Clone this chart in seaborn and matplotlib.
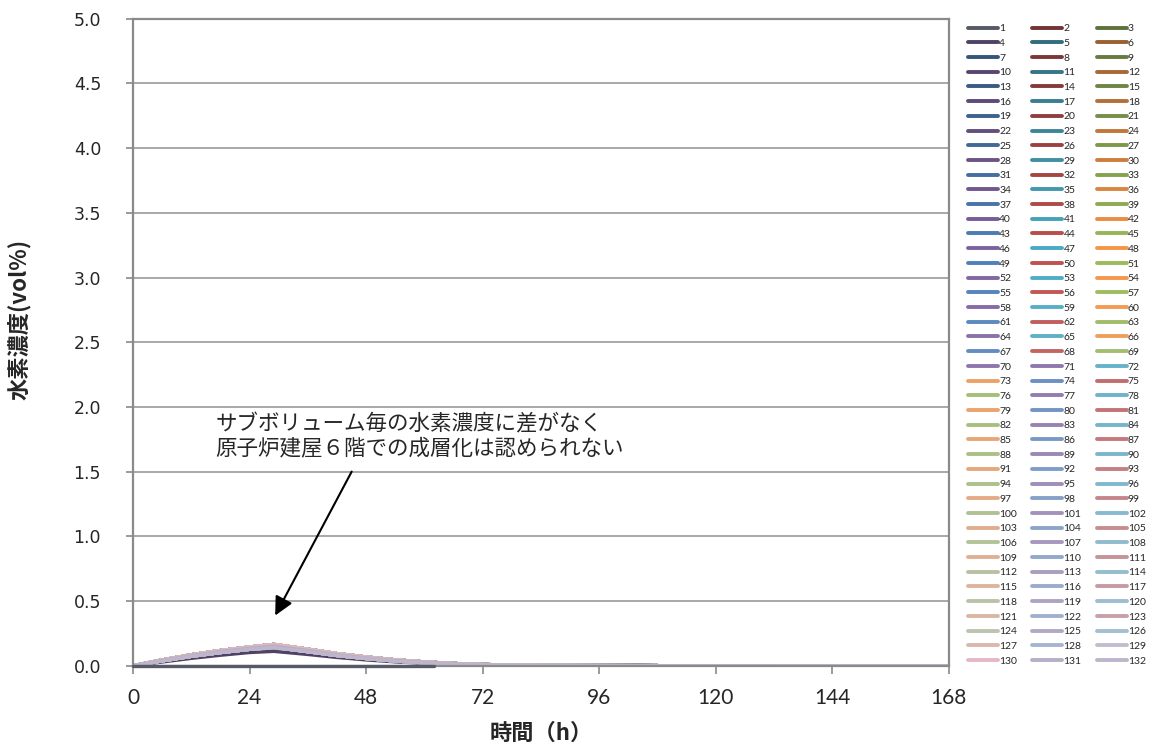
import numpy as np
import pandas as pd
import seaborn as sns
import matplotlib.pyplot as plt
import matplotlib.colors as mcolors

sns.set_style('white')
plt.rcParams['font.family'] = ['DejaVu Sans', 'Noto Sans CJK JP']
JP = ['Noto Sans CJK JP', 'DejaVu Sans']

# time axis (h) and concentration profiles (vol%)
time_h = [0, 6, 12, 18, 24, 29, 36, 42, 48, 54, 60, 66, 72, 84, 96, 120, 144, 168]
conc_high = [0, 0.045, 0.085, 0.118, 0.145, 0.165, 0.128, 0.094, 0.068, 0.046, 0.030, 0.018, 0.010, 0.004, 0.002, 0.001, 0, 0]
conc_mid = [0, 0.042, 0.080, 0.111, 0.137, 0.154, 0.119, 0.087, 0.062, 0.042, 0.027, 0.016, 0.009, 0.004, 0.002, 0.001, 0, 0]
conc_low = [0, 0.039, 0.074, 0.103, 0.128, 0.143, 0.110, 0.080, 0.057, 0.038, 0.024, 0.014, 0.008, 0.003, 0.001, 0, 0, 0]
conc_dark = [0, 0.030, 0.058, 0.082, 0.103, 0.112, 0.088, 0.065, 0.046, 0.031, 0.020, 0.012, 0.006, 0.003, 0.001, 0, 0, 0]
zero_time = [0, 62]
zero_conc = [0, 0]

series_names = [str(n) for n in range(1, 133)]
zero_series = ['1']
dark_series = ['4']
band_profiles = [conc_high, conc_mid, conc_low]

x_ticks = [0, 24, 48, 72, 96, 120, 144, 168]
y_ticks = [0.0, 0.5, 1.0, 1.5, 2.0, 2.5, 3.0, 3.5, 4.0, 4.5, 5.0]

note = 'サブボリューム毎の水素濃度に差がなく\n原子炉建屋６階での成層化は認められない'

# long table for seaborn
rows = []
for i, name in enumerate(series_names):
    if name in zero_series:
        tt, cc = zero_time, zero_conc
    elif name in dark_series:
        tt, cc = time_h, conc_dark
    else:
        tt, cc = time_h, band_profiles[i % 3]
    for t, c in zip(tt, cc):
        rows.append((name, t, c))
df = pd.DataFrame(rows, columns=['series', 'time', 'conc'])

# excel-like palette: dark accents first, washed-out greyish at the end
accents = ['#4F81BD', '#C0504D', '#9BBB59', '#8064A2', '#4BACC6', '#F79646']
grey = np.array(mcolors.to_rgb('#b8b4c8'))
colors = {}
for n in range(1, 133):
    k = n - 1 if n < 71 else n - 2
    base = np.array(mcolors.to_rgb(accents[k % 6]))
    if n <= 49:
        s = 0.45 * (49 - n) / 48
        rgb = base * (1 - s) + np.array([0.15, 0.17, 0.2]) * s * 0.4
    else:
        s = (n - 49) / 83
        rgb = base * (1 - 0.75 * s) + grey * 0.55 * s + np.ones(3) * 0.2 * s
    colors[str(n)] = tuple(np.clip(rgb, 0, 1))
colors['132'] = mcolors.to_rgb('#bdb6cc')
colors['129'] = mcolors.to_rgb('#c4bdd0')
colors['130'] = mcolors.to_rgb('#e4b8c4')
colors['1'] = mcolors.to_rgb('#555a66')

fig, ax = plt.subplots(figsize=(11.57, 7.49), dpi=100)
fig.subplots_adjust(left=0.115, right=0.820, bottom=0.111, top=0.975)

sns.lineplot(data=df, x='time', y='conc', hue='series', hue_order=series_names,
             palette=colors, linewidth=2.4, estimator=None, sort=False,
             legend='full', ax=ax)
# the flat series sits over the axis line
ax.lines[0].set_zorder(3)
ax.lines[0].set_clip_on(False)

ax.set_xlim(0, 168)
ax.set_ylim(0, 5)
ax.set_xticks(x_ticks)
ax.set_yticks(y_ticks)
ax.set_yticklabels([f'{v:.1f}' for v in y_ticks], fontsize=12.5)
ax.set_xticklabels([str(v) for v in x_ticks], fontsize=15, family=['Lato', 'DejaVu Sans'])
ax.yaxis.grid(True, color='#a8a8a8', linewidth=1.4)
ax.xaxis.grid(False)
for sp in ax.spines.values():
    sp.set_color('#8a8a8a')
    sp.set_linewidth(1.6)
ax.tick_params(axis='y', direction='out', length=5, width=1.2, color='#8a8a8a', pad=18, left=True)
ax.tick_params(axis='x', direction='out', length=6, width=1.2, color='#8a8a8a', pad=10, bottom=True)

ax.set_xlabel('時間（h）', fontsize=16, fontweight='bold', family=JP, labelpad=10)
ax.set_ylabel('水素濃度(vol%)', fontsize=16, fontweight='bold', family=JP)
ax.yaxis.set_label_coords(-0.125, 0.535)

ax.text(16.9, 1.77, note, fontsize=15.5, family=JP, ha='left', va='center', linespacing=1.1)
ax.annotate('', xy=(29.0, 0.37), xytext=(45.3, 1.52),
            arrowprops=dict(arrowstyle='-|>', color='black', lw=1.5, mutation_scale=28))

# legend: row-major order in 3 columns
handles, labels = ax.get_legend_handles_labels()
ax.get_legend().remove()
lookup = dict(zip(labels, handles))
nrows = 44
order = [series_names[r * 3 + c] for c in range(3) for r in range(nrows)]
hs = [lookup[l] for l in order]
for h in hs:
    h.set_linewidth(2.8)
fig.legend(hs, order, ncol=3, loc='upper left', bbox_to_anchor=(0.832, 0.975),
           frameon=False, handlelength=2.9, handletextpad=0.1,
           columnspacing=1.45, labelspacing=0.52, borderpad=0,
           prop={'family': ['Lato', 'DejaVu Sans'], 'size': 7.5})

fig.savefig('out.png', dpi=100)
